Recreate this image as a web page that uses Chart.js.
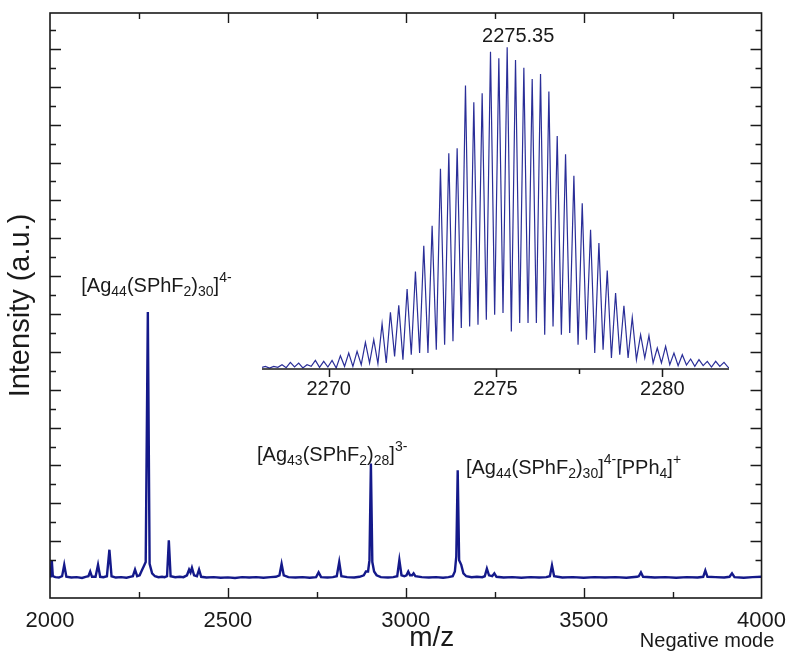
<!DOCTYPE html>
<html>
  <head>
    <script src="https://cdn.jsdelivr.net/npm/chart.js"></script>
    <style>
      body { margin: 0; padding: 0; background: #fff; }
      #wrap { position: relative; width: 796px; height: 652px; }
      #main { position: absolute; left: 0; top: 0; }
      #inset { position: absolute; left: 240px; top: 10px; }
    </style>
  </head>
  <body>
    <div id="wrap">
      <canvas id="main" width="796" height="652"></canvas>
      <canvas id="inset" width="520" height="410"></canvas>
    </div>

    <script>
      // full spectrum, m/z vs intensity (a.u.)
      const mainMz = [
        2000, 2002, 2005, 2008, 2015, 2025, 2034, 2040, 2046, 2060, 2075, 2090, 2100, 2108, 2113, 2118,
        2128, 2135, 2141, 2150, 2160, 2167, 2173, 2185, 2200, 2215, 2225, 2233, 2239, 2245, 2252, 2258,
        2263, 2269, 2275, 2280, 2287, 2295, 2305, 2315, 2322, 2329, 2334, 2339, 2352, 2365, 2375, 2385,
        2391, 2395, 2399, 2405, 2413, 2419, 2425, 2440, 2460, 2480, 2500, 2520, 2540, 2560, 2580, 2600,
        2620, 2635, 2645, 2651, 2657, 2670, 2690, 2710, 2730, 2748, 2755, 2762, 2780, 2795, 2806, 2813,
        2819, 2835, 2855, 2870, 2882, 2888, 2894, 2898, 2902, 2906, 2911, 2918, 2930, 2950, 2965, 2976,
        2982, 2988, 2996, 3002, 3007, 3012, 3018, 3022, 3027, 3045, 3065, 3085, 3105, 3120, 3132, 3138,
        3142, 3146, 3150, 3156, 3162, 3170, 3185, 3200, 3215, 3222, 3228, 3234, 3243, 3249, 3255, 3275,
        3300, 3325, 3350, 3375, 3395, 3405, 3411, 3417, 3440, 3470, 3500, 3530, 3560, 3590, 3620, 3650,
        3655, 3661, 3667, 3700, 3730, 3760, 3790, 3820, 3836, 3842, 3848, 3870, 3895, 3910, 3917, 3924,
        3950, 3975, 4000
      ];
      const mainInt = [
        1.15, 1.2, 2.0, 1.15, 1.1, 1.08, 1.15, 1.75, 1.12, 1.08, 1.1, 1.06, 1.12, 1.15, 1.4, 1.12,
        1.12, 1.75, 1.12, 1.1, 1.15, 2.55, 1.15, 1.08, 1.1, 1.07, 1.12, 1.15, 1.5, 1.15, 1.2, 1.45,
        1.65, 1.9, 15.1, 1.8, 1.3, 1.15, 1.1, 1.12, 1.1, 1.15, 3.05, 1.15, 1.1, 1.12, 1.1, 1.2,
        1.5, 1.35, 1.6, 1.2, 1.15, 1.5, 1.12, 1.08, 1.1, 1.07, 1.09, 1.06, 1.1, 1.08, 1.1, 1.07,
        1.1, 1.12, 1.2, 1.8, 1.2, 1.1, 1.08, 1.1, 1.07, 1.1, 1.35, 1.1, 1.08, 1.1, 1.15, 1.9,
        1.15, 1.1, 1.08, 1.12, 1.2, 1.4, 1.4, 2.0, 7.1, 1.9, 1.4, 1.2, 1.1, 1.08, 1.1, 1.15,
        2.0, 1.2, 1.15, 1.2, 1.4, 1.2, 1.2, 1.3, 1.15, 1.1, 1.08, 1.1, 1.07, 1.1, 1.15, 1.4,
        2.2, 6.75, 2.0, 1.75, 1.3, 1.15, 1.1, 1.12, 1.1, 1.15, 1.55, 1.2, 1.15, 1.3, 1.12, 1.08,
        1.1, 1.07, 1.1, 1.08, 1.1, 1.15, 1.72, 1.15, 1.08, 1.1, 1.07, 1.1, 1.08, 1.1, 1.07, 1.12,
        1.15, 1.35, 1.12, 1.08, 1.1, 1.07, 1.1, 1.08, 1.12, 1.45, 1.12, 1.1, 1.08, 1.12, 1.3, 1.1,
        1.07, 1.1, 1.12
      ];

      // isotope pattern of the 4- ion (inset), alternating peak tops and valleys
      const insetMz = [
        2268.0,
        2268.10, 2268.225, 2268.35, 2268.475, 2268.60, 2268.725, 2268.85, 2268.975,
        2269.10, 2269.225, 2269.35, 2269.475, 2269.60, 2269.725, 2269.85, 2269.975,
        2270.10, 2270.225, 2270.35, 2270.475, 2270.60, 2270.725, 2270.85, 2270.975,
        2271.10, 2271.225, 2271.35, 2271.475, 2271.60, 2271.725, 2271.85, 2271.975,
        2272.10, 2272.225, 2272.35, 2272.475, 2272.60, 2272.725, 2272.85, 2272.975,
        2273.10, 2273.225, 2273.35, 2273.475, 2273.60, 2273.725, 2273.85, 2273.975,
        2274.10, 2274.225, 2274.35, 2274.475, 2274.60, 2274.725, 2274.85, 2274.975,
        2275.10, 2275.225, 2275.35, 2275.475, 2275.60, 2275.725, 2275.85, 2275.975,
        2276.10, 2276.225, 2276.35, 2276.475, 2276.60, 2276.725, 2276.85, 2276.975,
        2277.10, 2277.225, 2277.35, 2277.475, 2277.60, 2277.725, 2277.85, 2277.975,
        2278.10, 2278.225, 2278.35, 2278.475, 2278.60, 2278.725, 2278.85, 2278.975,
        2279.10, 2279.225, 2279.35, 2279.475, 2279.60, 2279.725, 2279.85, 2279.975,
        2280.10, 2280.225, 2280.35, 2280.475, 2280.60, 2280.725, 2280.85, 2280.975,
        2281.10, 2281.225, 2281.35, 2281.475, 2281.60, 2281.725, 2281.85, 2281.975,
        2282.0
      ];
      const insetInt = [
        5,
        8, 3, 8, 5, 13, 4, 20, 6,
        18, 3, 13, 8, 26, 5, 23, 6,
        26, 3, 40, 8, 48, 8, 53, 13,
        80, 18, 88, 16, 136, 18, 170, 38,
        191, 28, 240, 43, 293, 48, 370, 48,
        430, 58, 601, 73, 648, 83, 663, 123,
        851, 128, 801, 133, 828, 148, 953, 163,
        933, 168, 966, 113, 928, 138, 905, 138,
        871, 138, 886, 103, 833, 128, 700, 103,
        645, 108, 580, 73, 498, 88, 418, 48,
        378, 58, 296, 33, 228, 43, 190, 33,
        155, 28, 103, 33, 100, 18, 63, 18,
        68, 13, 48, 10, 43, 12, 30, 8,
        28, 10, 23, 6, 23, 8, 20, 5,
        4
      ];

      const mainXTicks = [2000, 2250, 2500, 2750, 3000, 3250, 3500, 3750, 4000];
      const mainYTicks = [2, 3, 4, 5, 6, 7, 8, 9, 10, 11, 12, 13, 14, 15, 16, 17, 18, 19, 20,
                          21, 22, 23, 24, 25, 26, 27, 28, 29, 30];
      const insetXTicks = [2270, 2272.5, 2275, 2277.5, 2280];
      const topPeakMz = 2275.35;

      const labelParts = [
        { mz: 2088, y: 16.18, parts: [['[Ag', 'n'], ['44', 'sub'], ['(SPhF', 'n'], ['2', 'sub'], [')', 'n'], ['30', 'sub'], [']', 'n'], ['4-', 'sup']] },
        { mz: 2582, y: 7.22, parts: [['[Ag', 'n'], ['43', 'sub'], ['(SPhF', 'n'], ['2', 'sub'], [')', 'n'], ['28', 'sub'], [']', 'n'], ['3-', 'sup']] },
        { mz: 3169, y: 6.55, parts: [['[Ag', 'n'], ['44', 'sub'], ['(SPhF', 'n'], ['2', 'sub'], [')', 'n'], ['30', 'sub'], [']', 'n'], ['4-', 'sup'], ['[PPh', 'n'], ['4', 'sub'], [']', 'n'], ['+', 'sup']] }
      ];

      const FONT = '"Liberation Sans", Arial, sans-serif';
      const INK = '#1a1a1a';

      function drawRich(ctx, x, y, parts) {
        let cx = x;
        ctx.textAlign = 'left';
        ctx.textBaseline = 'alphabetic';
        parts.forEach(([txt, kind]) => {
          const fs = kind === 'n' ? 20 : 14;
          ctx.font = fs + 'px ' + FONT;
          const dy = kind === 'sub' ? 4 : (kind === 'sup' ? -10 : 0);
          ctx.fillText(txt, cx, y + dy);
          cx += ctx.measureText(txt).width;
        });
      }

      const mainDeco = {
        id: 'mainDeco',
        afterDraw(chart) {
          const ctx = chart.ctx;
          const xs = chart.scales.x, ys = chart.scales.y;
          const { left, right, top, bottom } = chart.chartArea;
          ctx.save();
          ctx.strokeStyle = INK;
          ctx.lineWidth = 1.6;
          ctx.strokeRect(left, top, right - left, bottom - top);
          ctx.lineWidth = 1.4;
          ctx.beginPath();
          xs.ticks.forEach(t => {
            if (t.value === 2000 || t.value === 4000) return;
            const px = Math.round(xs.getPixelForValue(t.value)) + 0.5;
            const len = t.value % 500 === 0 ? 10 : 6;
            ctx.moveTo(px, bottom); ctx.lineTo(px, bottom - len);
            ctx.moveTo(px, top); ctx.lineTo(px, top + len);
          });
          ys.ticks.forEach(t => {
            const py = Math.round(ys.getPixelForValue(t.value)) + 0.5;
            const len = t.value % 2 === 1 ? 11 : 6;
            ctx.moveTo(left, py); ctx.lineTo(left + len, py);
            ctx.moveTo(right, py); ctx.lineTo(right - len, py);
          });
          ctx.stroke();

          ctx.fillStyle = INK;
          labelParts.forEach(l => {
            drawRich(ctx, xs.getPixelForValue(l.mz), ys.getPixelForValue(l.y), l.parts);
          });

          ctx.textAlign = 'center';
          ctx.textBaseline = 'alphabetic';
          ctx.font = '28px ' + FONT;
          ctx.fillText('m/z', xs.getPixelForValue(3073), bottom + 48);
          ctx.font = '20px ' + FONT;
          ctx.fillText('Negative mode', xs.getPixelForValue(3847), bottom + 49);
          ctx.restore();
        }
      };

      new Chart(document.getElementById('main'), {
        type: 'line',
        data: {
          datasets: [{
            data: mainMz.map((x, i) => ({ x: x, y: mainInt[i] })),
            borderColor: '#14198a',
            borderWidth: 2.4,
            pointRadius: 0,
            tension: 0,
            fill: false
          }]
        },
        options: {
          responsive: false,
          animation: false,
          layout: { padding: { top: 13, right: 27, left: 0, bottom: 0 } },
          plugins: { legend: { display: false }, tooltip: { enabled: false } },
          scales: {
            x: {
              type: 'linear',
              min: 2000,
              max: 4000,
              grid: { display: false, drawTicks: false },
              border: { display: false },
              afterBuildTicks: s => { s.ticks = mainXTicks.map(v => ({ value: v })); },
              afterFit: s => { s.height = 54; },
              ticks: {
                autoSkip: false,
                maxRotation: 0,
                padding: 10,
                color: INK,
                font: { family: FONT, size: 22 },
                callback: v => (v % 500 === 0 ? String(v) : '')
              }
            },
            y: {
              type: 'linear',
              min: 0,
              max: 30.9,
              grid: { display: false, drawTicks: false },
              border: { display: false },
              afterBuildTicks: s => { s.ticks = mainYTicks.map(v => ({ value: v })); },
              afterFit: s => { s.width = 50; },
              ticks: { display: false },
              title: {
                display: true,
                text: 'Intensity (a.u.)',
                color: INK,
                font: { family: FONT, size: 29 },
                padding: { top: 4, bottom: 0 }
              }
            }
          }
        },
        plugins: [mainDeco]
      });

      const insetDeco = {
        id: 'insetDeco',
        afterDraw(chart) {
          const ctx = chart.ctx;
          const xs = chart.scales.x, ys = chart.scales.y;
          const { left, right, bottom } = chart.chartArea;
          ctx.save();
          ctx.strokeStyle = INK;
          ctx.lineWidth = 1.5;
          ctx.beginPath();
          ctx.moveTo(left, bottom); ctx.lineTo(right, bottom);
          xs.ticks.forEach(t => {
            const px = Math.round(xs.getPixelForValue(t.value)) + 0.5;
            const len = t.value % 5 === 0 ? 8 : 5;
            ctx.moveTo(px, bottom); ctx.lineTo(px, bottom + len);
          });
          ctx.stroke();
          ctx.fillStyle = INK;
          ctx.font = '20px ' + FONT;
          ctx.textAlign = 'center';
          ctx.textBaseline = 'alphabetic';
          ctx.fillText(topPeakMz.toFixed(2), xs.getPixelForValue(topPeakMz) + 11, ys.getPixelForValue(966) - 5);
          ctx.restore();
        }
      };

      new Chart(document.getElementById('inset'), {
        type: 'line',
        data: {
          datasets: [{
            data: insetMz.map((x, i) => ({ x: x, y: insetInt[i] })),
            borderColor: '#2a2e98',
            borderWidth: 1.2,
            pointRadius: 0,
            tension: 0,
            fill: false
          }]
        },
        options: {
          responsive: false,
          animation: false,
          layout: { padding: { top: 26, right: 31, left: 22, bottom: 0 } },
          plugins: { legend: { display: false }, tooltip: { enabled: false } },
          scales: {
            x: {
              type: 'linear',
              min: 2268,
              max: 2282,
              grid: { display: false, drawTicks: false },
              border: { display: false },
              afterBuildTicks: s => { s.ticks = insetXTicks.map(v => ({ value: v })); },
              afterFit: s => { s.height = 51; },
              ticks: {
                autoSkip: false,
                maxRotation: 0,
                padding: 8,
                color: INK,
                font: { family: FONT, size: 20 },
                callback: v => (v % 5 === 0 ? String(v) : '')
              }
            },
            y: {
              type: 'linear',
              min: 0,
              max: 1000,
              display: false
            }
          }
        },
        plugins: [insetDeco]
      });
    </script>
  </body>
</html>
